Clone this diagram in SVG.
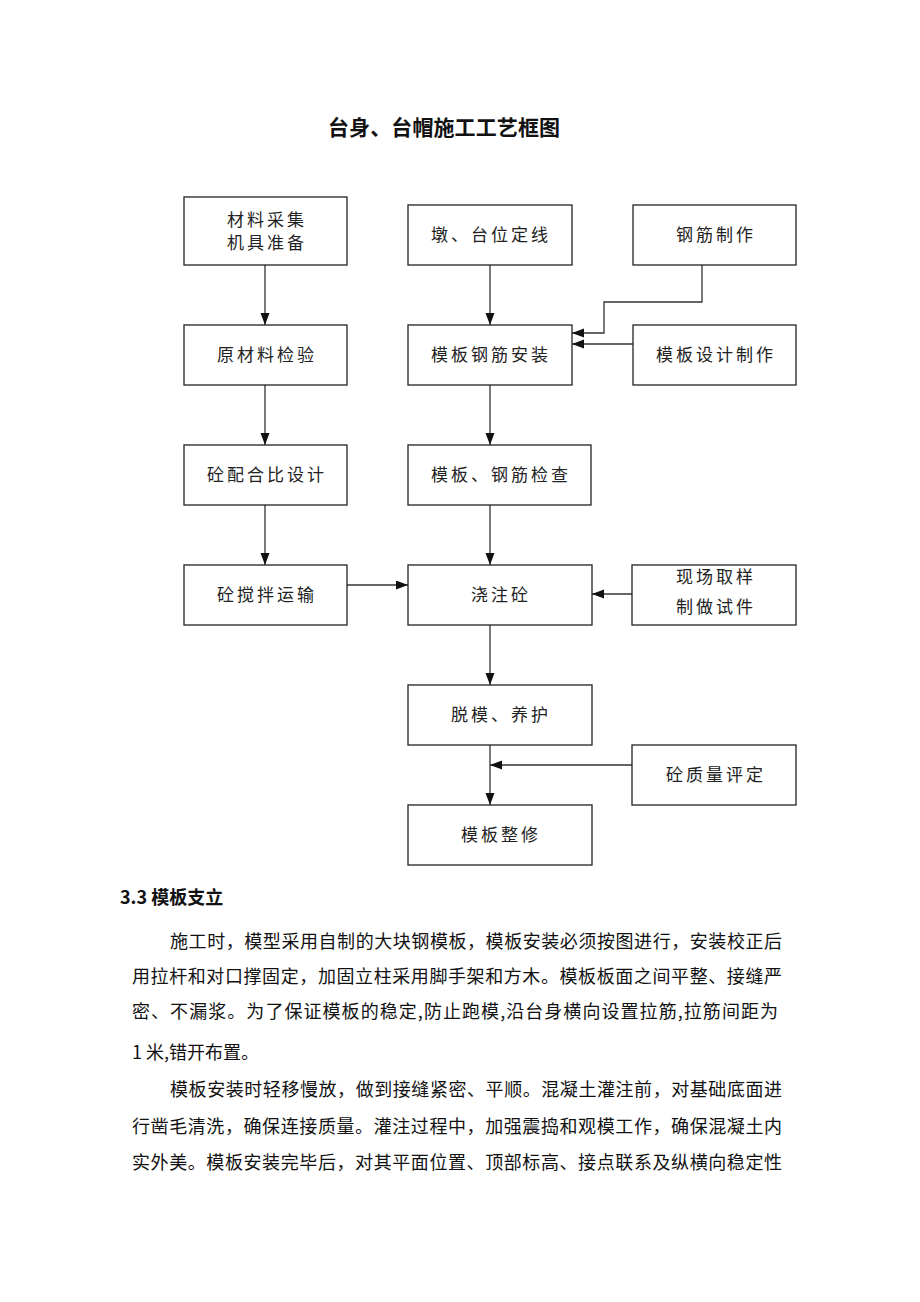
<svg xmlns="http://www.w3.org/2000/svg" width="920" height="1302" viewBox="0 0 920 1302">
<style>
.box rect{fill:#fff;stroke:#222;stroke-width:1.3}
.box text{font-family:"Noto Sans CJK SC","Liberation Sans",sans-serif;font-size:17px;fill:#222;text-anchor:middle;letter-spacing:3px}
.conn path,.conn line{fill:none;stroke:#333;stroke-width:1.3}
.title{font-family:"Noto Sans CJK SC","Liberation Sans",sans-serif;font-size:21px;font-weight:bold;fill:#111}
.body{font-family:"Noto Sans CJK SC","Liberation Serif",serif;font-size:18px;fill:#111}
.head{font-family:"Noto Sans CJK SC","Liberation Sans",sans-serif;font-size:18px;font-weight:bold;fill:#111}
</style>
<defs>
<marker id="arr" markerUnits="userSpaceOnUse" markerWidth="13" markerHeight="10" refX="12" refY="4.5" orient="auto">
<path d="M0,0 L12,4.5 L0,9 z" fill="#111"/>
</marker>
</defs>
<rect width="920" height="1302" fill="#fff"/>
<text class="title" x="328" y="135" textLength="232">台身、台帽施工工艺框图</text>

<g class="conn">
<line x1="265" y1="265" x2="265" y2="325" marker-end="url(#arr)"/>
<line x1="265" y1="385" x2="265" y2="445" marker-end="url(#arr)"/>
<line x1="265" y1="505" x2="265" y2="565" marker-end="url(#arr)"/>
<line x1="490" y1="265" x2="490" y2="325" marker-end="url(#arr)"/>
<line x1="490" y1="385" x2="490" y2="445" marker-end="url(#arr)"/>
<line x1="490" y1="505" x2="490" y2="565" marker-end="url(#arr)"/>
<line x1="490" y1="625" x2="490" y2="685" marker-end="url(#arr)"/>
<line x1="490" y1="745" x2="490" y2="805" marker-end="url(#arr)"/>
<path d="M702,265 V302 H604 V333 H572" marker-end="url(#arr)"/>
<line x1="633" y1="344" x2="572" y2="344" marker-end="url(#arr)"/>
<line x1="347" y1="585" x2="408" y2="585" marker-end="url(#arr)"/>
<line x1="632" y1="594" x2="592" y2="594" marker-end="url(#arr)"/>
<line x1="632" y1="765" x2="490" y2="765" marker-end="url(#arr)"/>
</g>

<g id="n1" class="box"><rect x="184" y="197" width="163" height="68"/><text x="267" y="226">材料采集</text><text x="267" y="249">机具准备</text></g>
<g id="n2" class="box"><rect x="184" y="325" width="163" height="60"/><text x="267" y="361">原材料检验</text></g>
<g id="n3" class="box"><rect x="184" y="445" width="163" height="60"/><text x="267" y="481">砼配合比设计</text></g>
<g id="n4" class="box"><rect x="184" y="565" width="163" height="60"/><text x="267" y="601">砼搅拌运输</text></g>
<g id="n5" class="box"><rect x="408" y="205" width="164" height="60"/><text x="491" y="241">墩、台位定线</text></g>
<g id="n6" class="box"><rect x="408" y="325" width="164" height="60"/><text x="491" y="361">模板钢筋安装</text></g>
<g id="n7" class="box"><rect x="408" y="445" width="183" height="60"/><text x="501" y="481">模板、钢筋检查</text></g>
<g id="n8" class="box"><rect x="408" y="565" width="184" height="60"/><text x="501" y="601">浇注砼</text></g>
<g id="n9" class="box"><rect x="408" y="685" width="184" height="60"/><text x="501" y="721">脱模、养护</text></g>
<g id="n10" class="box"><rect x="408" y="805" width="184" height="60"/><text x="501" y="841">模板整修</text></g>
<g id="n11" class="box"><rect x="633" y="205" width="163" height="60"/><text x="716" y="241">钢筋制作</text></g>
<g id="n12" class="box"><rect x="633" y="325" width="163" height="60"/><text x="716" y="361">模板设计制作</text></g>
<g id="n13" class="box"><rect x="632" y="565" width="164" height="60"/><text x="716" y="583">现场取样</text><text x="716" y="613">制做试件</text></g>
<g id="n14" class="box"><rect x="632" y="745" width="164" height="60"/><text x="716" y="781">砼质量评定</text></g>

<text class="head" x="120" y="904">3.3 模板支立</text>
<text class="body" x="170" y="948" textLength="612" lengthAdjust="spacing">施工时，模型采用自制的大块钢模板，模板安装必须按图进行，安装校正后</text>
<text class="body" x="132" y="983" textLength="650" lengthAdjust="spacing">用拉杆和对口撑固定，加固立柱采用脚手架和方木。模板板面之间平整、接缝严</text>
<text class="body" x="132" y="1018" textLength="646" lengthAdjust="spacing">密、不漏浆。为了保证模板的稳定,防止跑模,沿台身横向设置拉筋,拉筋间距为</text>
<text class="body" x="132" y="1059">1 米,错开布置。</text>
<text class="body" x="170" y="1096" textLength="612" lengthAdjust="spacing">模板安装时轻移慢放，做到接缝紧密、平顺。混凝土灌注前，对基础底面进</text>
<text class="body" x="132" y="1133" textLength="650" lengthAdjust="spacing">行凿毛清洗，确保连接质量。灌注过程中，加强震捣和观模工作，确保混凝土内</text>
<text class="body" x="132" y="1169" textLength="650" lengthAdjust="spacing">实外美。模板安装完毕后，对其平面位置、顶部标高、接点联系及纵横向稳定性</text>
</svg>
